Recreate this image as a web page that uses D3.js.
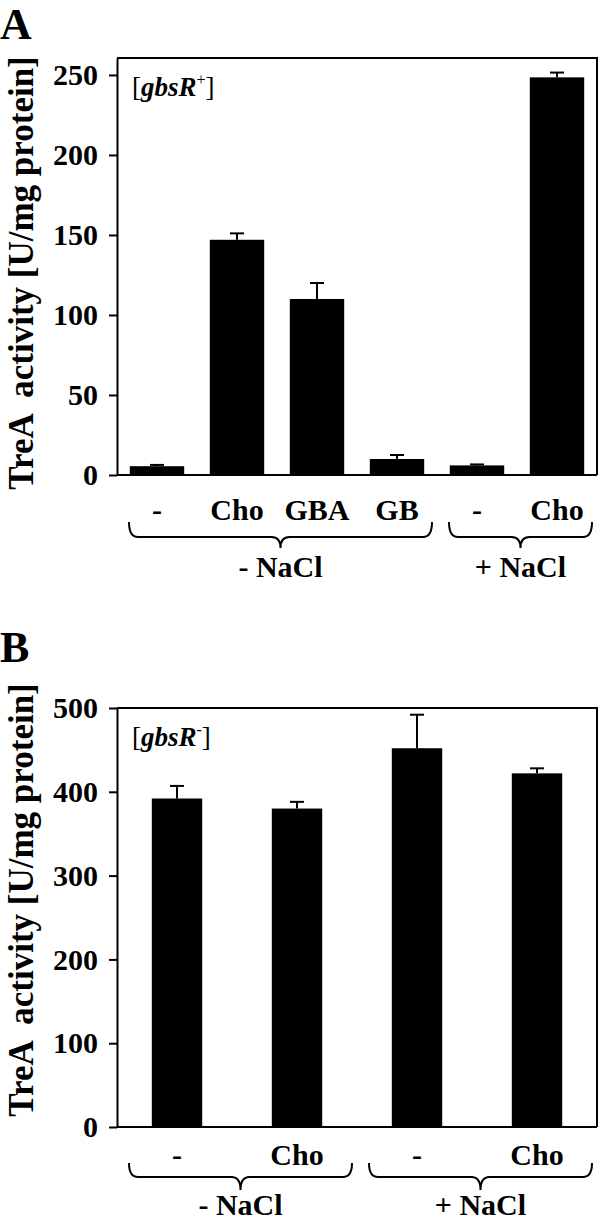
<!DOCTYPE html>
<html>
<head>
<meta charset="utf-8">
<script src="https://cdn.jsdelivr.net/npm/d3@7"></script>
<style>
  body { margin: 0; background: #fff; }
  text { font-family: "Liberation Serif", "Times New Roman", serif; font-weight: bold; }
</style>
</head>
<body>
<div id="container"></div>
<script>
/* DATA */
const labelsA = ["-", "Cho", "GBA", "GB", "-", "Cho"];
const valuesA = [5.5, 147, 110, 10, 6, 248.5];
const errorsA = [0.8, 4, 10, 2.5, 0.6, 3];
const ticksA = [0, 50, 100, 150, 200, 250];
const groupLabelsA = ["- NaCl", "+ NaCl"];
const groupSpansA = [[0, 3], [4, 5]];

const labelsB = ["-", "Cho", "-", "Cho"];
const valuesB = [392, 380, 452, 422];
const errorsB = [15, 8, 40, 6];
const ticksB = [0, 100, 200, 300, 400, 500];
const groupLabelsB = ["- NaCl", "+ NaCl"];
const groupSpansB = [[0, 1], [2, 3]];

const yTitle = "TreA  activity [U/mg protein]";

/* SVG */
const width = 600, height = 1220;
const svg = d3.select("#container")
  .append("svg")
  .attr("width", width)
  .attr("height", height);

function drawPanel(p) {
  const g = svg.append("g");

  // scales
  const x = d3.scaleBand()
    .domain(p.labels.map((d, i) => i))
    .range([p.left, p.right])
    .paddingInner(p.pad)
    .paddingOuter(p.pad / 2);

  const y = d3.scaleLinear()
    .domain([0, p.yMax])
    .range([p.bottom, p.top]);

  // bars
  g.selectAll("rect.bar")
    .data(p.values)
    .join("rect")
    .attr("class", "bar")
    .attr("x", (d, i) => x(i))
    .attr("width", x.bandwidth())
    .attr("y", d => y(d))
    .attr("height", d => y(0) - y(d))
    .attr("fill", "#000");

  // error bars (upper only)
  const eb = g.selectAll("g.err")
    .data(p.values)
    .join("g")
    .attr("class", "err")
    .attr("stroke", "#000")
    .attr("stroke-width", 2);
  eb.append("line")
    .attr("x1", (d, i) => x(i) + x.bandwidth() / 2)
    .attr("x2", (d, i) => x(i) + x.bandwidth() / 2)
    .attr("y1", d => y(d))
    .attr("y2", (d, i) => y(d + p.errors[i]));
  eb.append("line")
    .attr("x1", (d, i) => x(i) + x.bandwidth() / 2 - 7)
    .attr("x2", (d, i) => x(i) + x.bandwidth() / 2 + 7)
    .attr("y1", (d, i) => y(d + p.errors[i]))
    .attr("y2", (d, i) => y(d + p.errors[i]));

  // frame: top and right
  g.append("path")
    .attr("d", `M${p.left},${p.top}H${p.right}V${p.bottom}`)
    .attr("fill", "none")
    .attr("stroke", "#000")
    .attr("stroke-width", 2);

  // baseline
  g.append("line")
    .attr("x1", p.left).attr("x2", p.right)
    .attr("y1", y(0)).attr("y2", y(0))
    .attr("stroke", "#000")
    .attr("stroke-width", 2);

  // y axis
  const yAxis = d3.axisLeft(y)
    .tickValues(p.ticks)
    .tickSize(8)
    .tickSizeOuter(0)
    .tickPadding(11);
  const ya = g.append("g")
    .attr("transform", `translate(${p.left},0)`)
    .call(yAxis);
  ya.attr("font-family", null).attr("font-size", null);
  ya.select(".domain").attr("stroke-width", 2);
  ya.selectAll(".tick line").attr("stroke-width", 2);
  ya.selectAll("text")
    .style("font-size", "30px")
    .attr("fill", "#000");

  // category labels
  g.selectAll("text.cat")
    .data(p.labels)
    .join("text")
    .attr("class", "cat")
    .attr("x", (d, i) => x(i) + x.bandwidth() / 2)
    .attr("y", p.bottom + p.catDy)
    .attr("text-anchor", "middle")
    .style("font-size", "30px")
    .text(d => d);

  // braces
  const bTop = p.bottom + p.braceDy;
  const bMid = bTop + p.braceH;
  const bTip = bMid + p.braceTip;
  const r = 9;
  p.spans.forEach((s, k) => {
    const x0 = x(s[0]) - x.step() * x.paddingInner() / 2 + 12;
    const x1 = x(s[1]) + x.bandwidth() + x.step() * x.paddingInner() / 2 - 5;
    const xm = (x0 + x1) / 2;
    g.append("path")
      .attr("d", `M${x0},${bTop} Q${x0},${bMid} ${x0 + r},${bMid} L${xm - r},${bMid} Q${xm},${bMid} ${xm},${bTip} Q${xm},${bMid} ${xm + r},${bMid} L${x1 - r},${bMid} Q${x1},${bMid} ${x1},${bTop}`)
      .attr("fill", "none")
      .attr("stroke", "#000")
      .attr("stroke-width", 2);
    g.append("text")
      .attr("x", xm)
      .attr("y", p.bottom + p.groupDy)
      .attr("text-anchor", "middle")
      .style("font-size", "30px")
      .text(p.groupLabels[k]);
  });

  // genotype annotation
  const ann = g.append("text")
    .attr("x", p.left + 15)
    .attr("y", p.annY)
    .style("font-size", "27px");
  ann.append("tspan").attr("font-weight", "normal").text("[");
  ann.append("tspan").attr("font-style", "italic").text("gbsR");
  ann.append("tspan").attr("font-weight", "normal").attr("font-size", "16px").attr("dy", -11).text(p.sup);
  ann.append("tspan").attr("font-weight", "normal").attr("dy", 11).text("]");

  // y title
  g.append("text")
    .attr("transform", `translate(33,${p.titleY}) rotate(-90)`)
    .attr("text-anchor", "middle")
    .style("font-size", "35px")
    .style("white-space", "pre")
    .text(yTitle);

  // panel letter
  g.append("text")
    .attr("x", 0)
    .attr("y", p.letterY)
    .style("font-size", "44px")
    .text(p.letter);
}

drawPanel({
  labels: labelsA, values: valuesA, errors: errorsA, ticks: ticksA,
  groupLabels: groupLabelsA, spans: groupSpansA,
  left: 117, right: 597, top: 58, bottom: 475, yMax: 260.6, pad: 0.32,
  catDy: 45, braceDy: 47, braceH: 15, braceTip: 11, groupDy: 102,
  annY: 96, sup: "+", titleY: 273, letter: "A", letterY: 39
});

drawPanel({
  labels: labelsB, values: valuesB, errors: errorsB, ticks: ticksB,
  groupLabels: groupLabelsB, spans: groupSpansB,
  left: 117, right: 597, top: 708, bottom: 1127, yMax: 500, pad: 0.58,
  catDy: 38, braceDy: 36, braceH: 14, braceTip: 13, groupDy: 88,
  annY: 746, sup: "-", titleY: 900, letter: "B", letterY: 662
});
</script>
</body>
</html>
